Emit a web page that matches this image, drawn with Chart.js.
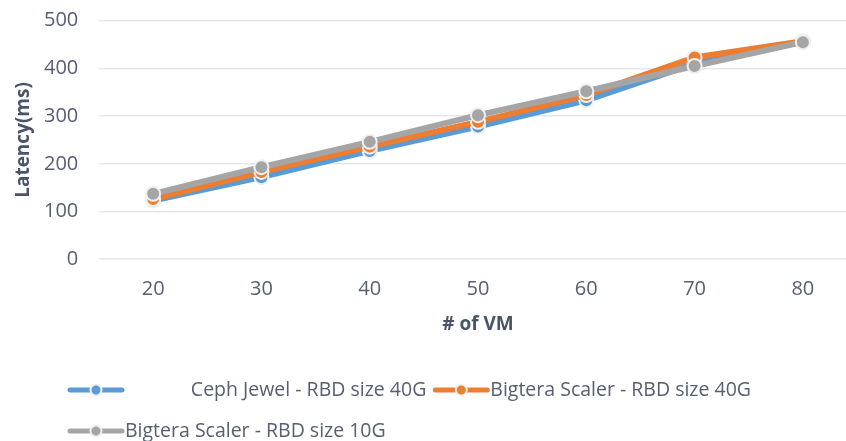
<!DOCTYPE html>
<html>
<head>
<meta charset="utf-8">
<script src="https://cdn.jsdelivr.net/npm/chart.js@4/dist/chart.umd.min.js"></script>
<style>
  html, body { margin: 0; padding: 0; background: #fff; overflow: hidden; }
  #wrap { width: 846px; height: 441px; overflow: hidden; }
  canvas { display: block; }
</style>
</head>
<body>
<div id="wrap"><canvas id="latencyChart" width="866" height="458"></canvas></div>
<script>
// latencia por numero de VMs
const vmCounts = ['20', '30', '40', '50', '60', '70', '80'];
const cephJewel40 = [123, 172, 227, 278, 333, 410, 456];
const bigtera40 = [126, 183, 236, 288, 344, 423, 457];
const bigtera10 = [137, 193, 246, 302, 352, 405, 455];
const seriesNames = [
  '             Ceph Jewel - RBD size 40G',
  'Bigtera Scaler - RBD size 40G',
  'Bigtera Scaler - RBD size 10G'
];
const yTicks = [0, 100, 200, 300, 400, 500];

const TEXT = '#566072';
const LEGEND_LEFT = 61;

Chart.defaults.font.family = "'Open Sans', 'Noto Sans', sans-serif";
Chart.defaults.color = TEXT;

function serie(label, data, color, order) {
  return {
    label,
    data,
    order,
    borderColor: color,
    backgroundColor: color,
    borderWidth: 6,
    pointRadius: 7,
    pointHoverRadius: 7,
    pointBorderWidth: 2,
    pointBorderColor: '#efefef',
    pointBackgroundColor: color,
    tension: 0
  };
}

// desenha a linha com bolinha de cada item da legenda
const legendMarks = {
  id: 'legendMarks',
  afterLayout(chart) {
    chart.legend.left = LEGEND_LEFT;
  },
  afterDraw(chart) {
    const lg = chart.legend;
    const ctx = chart.ctx;
    lg.legendItems.forEach((item, i) => {
      const hb = lg.legendHitBoxes[i];
      const ds = chart.data.datasets[item.datasetIndex];
      const y = hb.top + hb.height / 2;
      const x0 = hb.left + 2;
      const x1 = x0 + 52;
      ctx.save();
      ctx.strokeStyle = ds.borderColor;
      ctx.lineWidth = 5;
      ctx.lineCap = 'round';
      ctx.beginPath();
      ctx.moveTo(x0, y);
      ctx.lineTo(x1, y);
      ctx.stroke();
      ctx.beginPath();
      ctx.arc((x0 + x1) / 2, y, 5.5, 0, Math.PI * 2);
      ctx.fillStyle = ds.borderColor;
      ctx.fill();
      ctx.lineWidth = 2;
      ctx.strokeStyle = '#efefef';
      ctx.stroke();
      ctx.restore();
    });
  }
};

const ctx = document.getElementById('latencyChart').getContext('2d');
window.latencyChart = new Chart(ctx, {
  type: 'line',
  data: {
    labels: vmCounts,
    datasets: [
      serie(seriesNames[0], cephJewel40, '#5B9BD5', 2),
      serie(seriesNames[1], bigtera40, '#ED7D31', 1),
      serie(seriesNames[2], bigtera10, '#A5A5A5', 0)
    ]
  },
  plugins: [legendMarks],
  options: {
    responsive: false,
    animation: false,
    layout: { padding: { top: 20.7, left: 0, right: 0, bottom: 0 } },
    plugins: {
      tooltip: { enabled: false },
      legend: {
        position: 'bottom',
        align: 'start',
        labels: {
          font: { size: 19.5 },
          color: TEXT,
          boxWidth: 47.25,
          boxHeight: 34,
          padding: 7,
          sort: (a, b) => a.datasetIndex - b.datasetIndex,
          generateLabels(chart) {
            return Chart.defaults.plugins.legend.labels.generateLabels(chart).map(l => ({
              ...l,
              fillStyle: 'rgba(0,0,0,0)',
              strokeStyle: 'rgba(0,0,0,0)',
              lineWidth: 0
            }));
          }
        }
      }
    },
    scales: {
      x: {
        offset: true,
        grid: { display: false, drawTicks: false },
        border: { display: false },
        ticks: { font: { size: 20 }, color: TEXT, padding: 18.3 },
        title: {
          display: true,
          text: '# of VM',
          font: { size: 19, weight: 'bold' },
          color: '#485468',
          padding: { top: 4, bottom: 29.8 }
        },
        afterFit(scale) {
          scale.height = 106.8;
          scale.paddingRight = 0;
          scale.paddingLeft = 0;
        }
      },
      y: {
        min: 0,
        max: 500,
        afterBuildTicks: (scale) => { scale.ticks = yTicks.map(v => ({ value: v })); },
        grid: { color: '#e3e7ec', lineWidth: 1.5, drawTicks: false },
        border: { display: false },
        ticks: { font: { size: 20 }, color: TEXT, padding: 20.7 },
        title: {
          display: true,
          text: 'Latency(ms)',
          font: { size: 19, weight: 'bold' },
          color: '#485468',
          padding: { top: 12.6, bottom: 4 }
        },
        afterFit(scale) {
          scale.width = 99;
          scale.paddingTop = 12;
          scale.paddingBottom = 12;
        }
      }
    }
  }
});
</script>
</body>
</html>
